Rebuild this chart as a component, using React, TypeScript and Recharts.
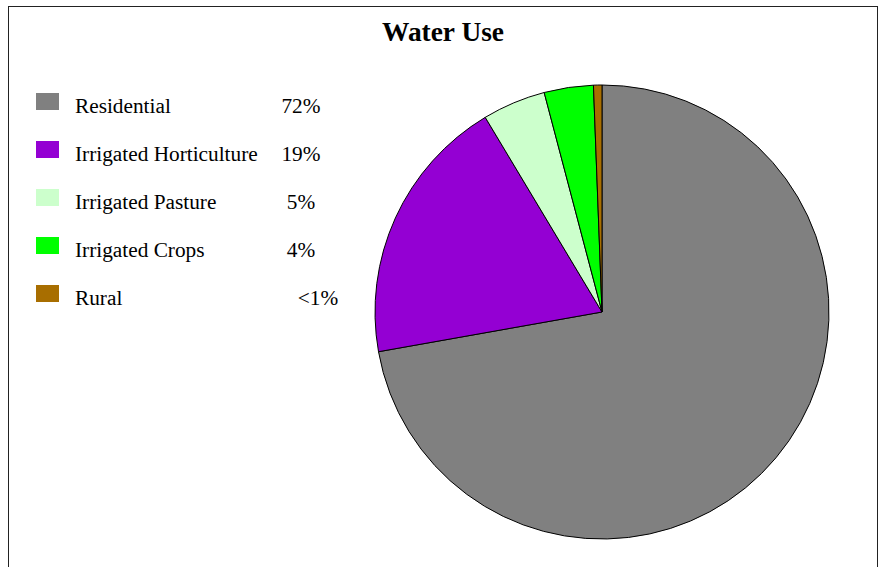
import React from "react";
import { PieChart, Pie, Cell, Legend } from "recharts";

const categories = [
  "Residential",
  "Irrigated Horticulture",
  "Irrigated Pasture",
  "Irrigated Crops",
  "Rural",
];
const shares = [72.2, 19.2, 4.5, 3.5, 0.6];
const shareLabels = ["72%", "19%", "5%", "4%", "<1%"];
const colors = ["#808080", "#9400D3", "#CCFFCC", "#00FF00", "#A86E00"];

const data = categories.map((name, i) => ({ name, value: shares[i] }));

const FONT = '"Liberation Serif", "Times New Roman", serif';

function LegendBox() {
  return (
    <svg width={360} height={330} style={{ display: "block" }}>
      {categories.map((name, i) => {
        const y = 93 + i * 48;
        // the "<1%" label sits further right in the original
        const pctX = i === 4 ? 318 : 301;
        return (
          <g key={name}>
            <rect x={36} y={y} width={23} height={17} fill={colors[i]} />
            <text x={75} y={y + 20} fontFamily={FONT} fontSize={21.3} fill="#000">
              {name}
            </text>
            <text
              x={pctX}
              y={y + 20}
              fontFamily={FONT}
              fontSize={21.3}
              fill="#000"
              textAnchor="middle"
            >
              {shareLabels[i]}
            </text>
          </g>
        );
      })}
    </svg>
  );
}

export default function App() {
  return (
    <div
      style={{
        position: "absolute",
        left: 0,
        top: 0,
        width: 885,
        height: 567,
        overflow: "hidden",
        background: "#fff",
      }}
    >
      <div
        style={{
          position: "absolute",
          left: 8,
          top: 6,
          width: 868,
          height: 620,
          border: "1px solid #222",
        }}
      />
      <div
        style={{
          position: "absolute",
          left: 8,
          top: 17,
          width: 870,
          textAlign: "center",
          fontFamily: FONT,
          fontWeight: "bold",
          fontSize: 27.4,
          color: "#000",
        }}
      >
        Water Use
      </div>
      <div style={{ position: "absolute", left: 0, top: 0 }}>
        <PieChart width={885} height={567} margin={{ top: 0, right: 0, bottom: 0, left: 0 }}>
          <Pie
            data={data}
            dataKey="value"
            nameKey="name"
            cx={602}
            cy={312}
            outerRadius={227}
            startAngle={90}
            endAngle={-270}
            stroke="#000"
            strokeWidth={1}
            isAnimationActive={false}
          >
            {data.map((d, i) => (
              <Cell key={d.name} fill={colors[i]} />
            ))}
          </Pie>
          <Legend
            content={() => <LegendBox />}
            wrapperStyle={{ position: "absolute", left: 0, top: 0, width: 360 }}
          />
        </PieChart>
      </div>
    </div>
  );
}
